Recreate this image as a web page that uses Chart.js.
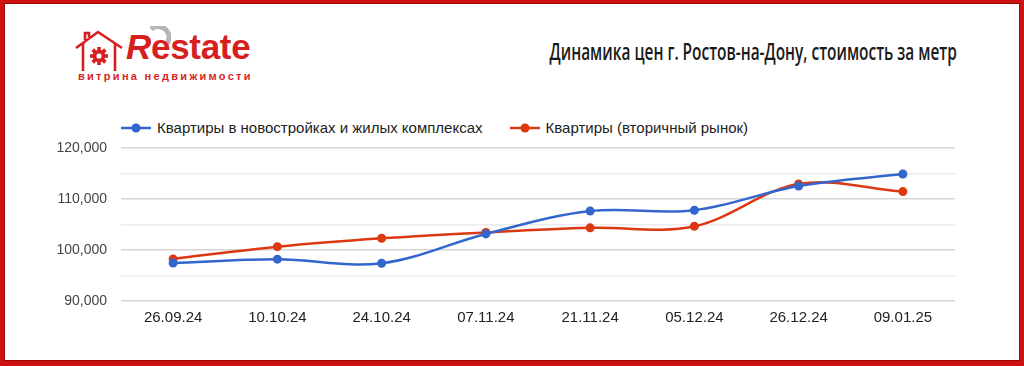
<!DOCTYPE html>
<html lang="ru">
<head>
<meta charset="utf-8">
<title>Динамика цен г. Ростов-на-Дону</title>
<script src="https://cdn.jsdelivr.net/npm/chart.js@4.4.1/dist/chart.umd.min.js"></script>
<style>
  html, body { margin: 0; padding: 0; background: #fff; }
  .frame {
    position: relative;
    width: 1024px; height: 366px;
    box-sizing: border-box;
    border-style: solid;
    border-color: #cc1111;
    border-width: 3px 4px 5px 4px;
    box-shadow: inset 0 0 0 1px #a00808;
    overflow: hidden;
    font-family: "Liberation Sans", Arial, sans-serif;
  }
  .logo-icon { position: absolute; left: 66px; top: 22px; }
  .logo-word {
    position: absolute; left: 122px; top: 24px;
    font: bold 35px "Liberation Sans", Arial, sans-serif;
    color: #d81f1f; letter-spacing: -0.3px;
  }
  .logo-word i { font-style: italic; }
  .logo-sub {
    position: absolute; left: 74px; top: 67px;
    font: bold 11px "Liberation Sans", Arial, sans-serif;
    color: #d81f1f; letter-spacing: 2.3px;
  }
  .title {
    position: absolute; right: 63px; top: 32px;
    font: 600 23px "Open Sans", sans-serif;
    color: #1a1a1a;
    transform: scaleX(0.67);
    transform-origin: right center;
    white-space: nowrap;
  }
  #legend {
    position: absolute; left: 117px; top: 116px;
    display: flex; gap: 27px;
    font: 15px "Liberation Sans", Arial, sans-serif; color: #222;
  }
  #legend .item { display: flex; align-items: center; }
  #legend svg { margin-right: 6px; }
  #chart { position: absolute; left: -4px; top: 117px; }
</style>
</head>
<body>
<div class="frame">
  <svg class="logo-icon" width="60" height="50" viewBox="0 0 60 50">
    <g fill="none" stroke="#d81f1f" stroke-width="2.6" stroke-linejoin="miter">
      <polyline points="6,23 28,7 52,23"/>
      <polyline points="13,18 13,46"/>
      <polyline points="45,18 45,46"/>
      <polyline points="15,15 15,8 19,8 19,12"/>
    </g>
    <g transform="translate(29,31)" fill="#d81f1f">
      <circle r="6.2"/>
      <rect x="-1.8" y="-9" width="3.6" height="18"/>
      <rect x="-9" y="-1.8" width="18" height="3.6"/>
      <rect x="-1.8" y="-9" width="3.6" height="18" transform="rotate(45)"/>
      <rect x="-1.8" y="-9" width="3.6" height="18" transform="rotate(-45)"/>
      <circle r="2.6" fill="#fff"/>
    </g>
  </svg>
  <svg class="logo-icon" style="left:143px;top:23px" width="24" height="24" viewBox="0 0 24 24">
    <path d="M4,3 A10,10 0 0 1 18,20" fill="none" stroke="#b5b5b5" stroke-width="5"/>
  </svg>
  <div class="logo-word"><i>R</i>estate</div>
  <div class="logo-sub">витрина недвижимости</div>
  <div class="title">Динамика цен г. Ростов-на-Дону, стоимость за метр</div>
  <div id="legend"></div>
  <canvas id="chart" width="1024" height="236"></canvas>
</div>
<script>
// даты замеров
const dates = ['26.09.24', '10.10.24', '24.10.24', '07.11.24', '21.11.24', '05.12.24', '26.12.24', '09.01.25'];
// цена за метр, руб.
const newBuildings = [97450, 98200, 97400, 103150, 107650, 107800, 112550, 114900];
const secondaryMarket = [98250, 100650, 102300, 103450, 104350, 104650, 112950, 111450];
const seriesNames = ['Квартиры в новостройках и жилых комплексах', 'Квартиры (вторичный рынок)'];
const seriesColors = ['#3366cc', '#dc3912'];

const makeSet = (label, data, color) => ({
  label: label,
  data: data,
  borderColor: color,
  backgroundColor: color,
  borderWidth: 2.5,
  pointRadius: 4.5,
  pointHoverRadius: 4.5,
  pointBorderWidth: 0,
  tension: 0.35,
  fill: false,
});

const chart = new Chart(document.getElementById('chart'), {
  type: 'line',
  data: {
    labels: dates,
    datasets: [
      makeSet(seriesNames[0], newBuildings, seriesColors[0]),
      makeSet(seriesNames[1], secondaryMarket, seriesColors[1]),
    ],
  },
  options: {
    responsive: false,
    animation: false,
    devicePixelRatio: 1,
    layout: { padding: { left: 0, right: 69, top: 28, bottom: 0 } },
    plugins: { legend: { display: false }, tooltip: { enabled: false } },
    scales: {
      x: {
        offset: true,
        grid: { display: false, drawTicks: false },
        border: { display: false },
        ticks: {
          color: '#222',
          padding: 8,
          font: { family: '"Liberation Sans", Arial', size: 15 },
          maxRotation: 0,
        },
        afterFit: (s) => { s.height = 55; },
      },
      y: {
        min: 90000,
        max: 120000,
        border: { display: false },
        grid: {
          drawTicks: false,
          lineWidth: 1.6,
          color: (c) => (c.tick && c.tick.value % 10000 === 0 ? '#d6d6d6' : '#ececec'),
        },
        ticks: {
          stepSize: 5000,
          color: '#444',
          padding: 14,
          font: { family: '"Liberation Sans", Arial', size: 14 },
          callback: (v) => (v % 10000 === 0 ? v.toLocaleString('en-US') : ''),
        },
        afterFit: (s) => { s.width = 121; },
      },
    },
  },
});

// легенда в стиле Google Charts: линия с точкой
const legend = document.getElementById('legend');
chart.data.datasets.forEach((ds) => {
  const item = document.createElement('div');
  item.className = 'item';
  item.innerHTML =
    '<svg width="30" height="10"><line x1="0" y1="5" x2="30" y2="5" stroke="' + ds.borderColor +
    '" stroke-width="2.5"/><circle cx="15" cy="5" r="4.5" fill="' + ds.borderColor + '"/></svg>';
  const span = document.createElement('span');
  span.textContent = ds.label;
  item.appendChild(span);
  legend.appendChild(item);
});
</script>
</body>
</html>
